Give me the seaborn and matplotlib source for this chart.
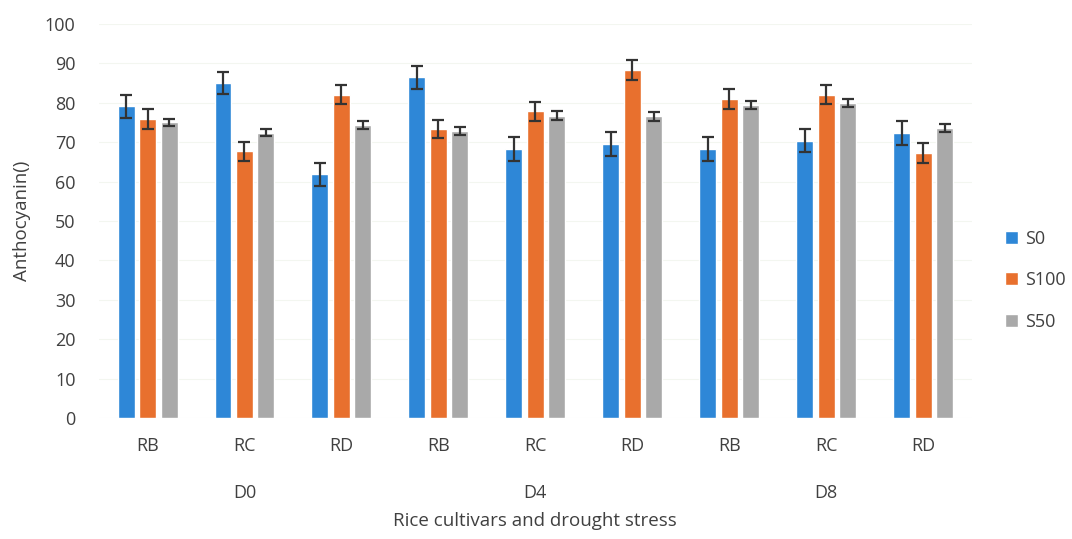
"""Anthocyanin content by rice cultivar and drought stress (grouped bars + SE)."""

import numpy as np
import pandas as pd
import matplotlib
matplotlib.use("Agg")
import matplotlib.pyplot as plt
import matplotlib.transforms as mtransforms
import seaborn as sns

# ── Data ──────────────────────────────────────────────────────────────────────
stress_days = ["D0", "D4", "D8"]
cultivars   = ["RB", "RC", "RD"]
series      = ["S0", "S100", "S50"]

s0_vals   = [79.1, 85.1, 61.8, 86.5, 68.3, 69.6, 68.3, 70.4, 72.4]
s100_vals = [75.9, 67.7, 82.0, 73.3, 77.9, 88.3, 81.0, 82.0, 67.2]
s50_vals  = [75.1, 72.4, 74.4, 72.8, 76.7, 76.6, 79.4, 80.0, 73.7]

s0_err    = [2.9, 2.8, 2.9, 2.9, 3.0, 3.0, 3.0, 2.9, 3.0]
s100_err  = [2.5, 2.4, 2.4, 2.3, 2.4, 2.5, 2.5, 2.4, 2.5]
s50_err   = [0.9, 0.9, 1.0, 1.0, 1.1, 1.1, 1.0, 1.0, 1.0]

colors = {"S0": "#2E87D7", "S100": "#E8702E", "S50": "#A9A9A9"}

# ── Long table ────────────────────────────────────────────────────────────────
keys = [f"{d}-{c}" for d in stress_days for c in cultivars]
rows = []
for name, vals, errs in [("S0", s0_vals, s0_err),
                         ("S100", s100_vals, s100_err),
                         ("S50", s50_vals, s50_err)]:
    for k, v, e in zip(keys, vals, errs):
        rows.append({"group": k, "series": name, "value": v, "err": e})
df = pd.DataFrame(rows)

# ── Plot ──────────────────────────────────────────────────────────────────────
sns.set_style("white")
plt.rcParams["font.family"] = ["Open Sans", "DejaVu Sans"]
txt_col = "#404040"

fig = plt.figure(figsize=(10.72, 5.39), dpi=100)
ax = fig.add_axes([0.0924, 0.2245, 0.814, 0.731])

sns.barplot(data=df, x="group", y="value", hue="series", order=keys,
            hue_order=series, palette=colors, width=0.665, gap=0.21,
            errorbar=None, saturation=1, ax=ax)

# error bars placed on the drawn patches
for cont, name in zip(ax.containers, series):
    sub = df[df.series == name].set_index("group").loc[keys]
    xs = [p.get_x() + p.get_width() / 2 for p in cont.patches]
    ax.errorbar(xs, sub["value"], yerr=sub["err"], fmt="none",
                ecolor="#333333", elinewidth=1.6, capsize=4.2, capthick=1.6)

ax.set_xlim(-0.5, len(keys) - 0.5)
ax.set_ylim(0, 100)
ax.set_yticks(range(0, 101, 10))
ax.set_xticks(range(len(keys)))
ax.set_xticklabels([c for _ in stress_days for c in cultivars])
ax.tick_params(axis="both", length=0, labelsize=13, colors=txt_col)
ax.tick_params(axis="y", pad=17)
ax.tick_params(axis="x", pad=14)
ax.grid(axis="y", color="#f3f6f0", linewidth=0.8)
ax.set_axisbelow(True)
sns.despine(ax=ax, left=True, bottom=True)

ax.set_ylabel("Anthocyanin()", fontsize=13.5, color=txt_col, labelpad=10)
ax.set_xlabel("Rice cultivars and drought stress", fontsize=13.5,
              color=txt_col, labelpad=41)

trans = mtransforms.blended_transform_factory(ax.transData, ax.transAxes)
for i, d in enumerate(stress_days):
    ax.text(i * 3 + 1, -0.19, d, transform=trans, ha="center", va="center",
            fontsize=13, color=txt_col)

ax.legend(loc="center left", bbox_to_anchor=(1.02, 0.35), frameon=False,
          fontsize=13, labelcolor=txt_col, handlelength=0.7, handleheight=0.7,
          handletextpad=0.4, labelspacing=1.3)

fig.savefig("out.png", dpi=100)
